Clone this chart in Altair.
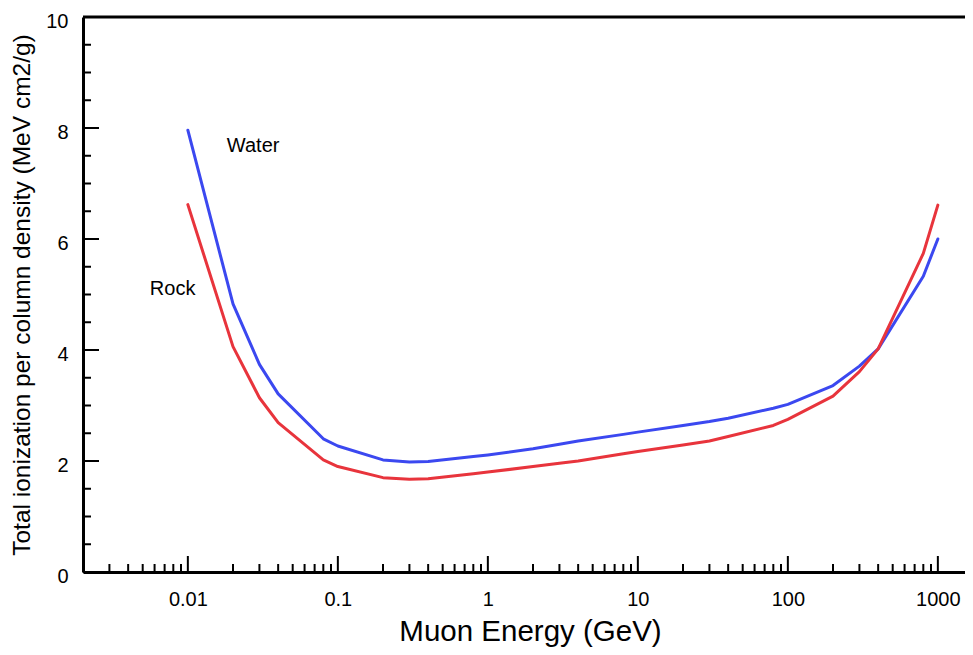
import altair as alt
import pandas as pd

# ---- data ----
energy = [0.01, 0.02, 0.03, 0.04, 0.08, 0.1, 0.2, 0.3, 0.4, 0.8, 1, 2, 3, 4, 8,
          10, 20, 30, 40, 80, 100, 200, 300, 400, 800, 1000]
water = [7.96, 4.83, 3.74, 3.21, 2.40, 2.27, 2.02, 1.98, 1.99, 2.08, 2.11, 2.22,
         2.30, 2.36, 2.48, 2.52, 2.64, 2.71, 2.77, 2.95, 3.02, 3.36, 3.71, 4.02,
         5.33, 6.00]
rock = [6.62, 4.06, 3.14, 2.69, 2.02, 1.90, 1.70, 1.67, 1.68, 1.77, 1.80, 1.90,
        1.96, 2.00, 2.13, 2.17, 2.29, 2.36, 2.44, 2.64, 2.75, 3.17, 3.61, 4.02,
        5.74, 6.61]

label_text = ["Water", "Rock"]
label_x = [0.0182, 0.00558]
label_y = [7.57, 4.99]

x_major = [0.01, 0.1, 1, 10, 100, 1000]
x_minor = [k * 10.0 ** e for e in range(-3, 3) for k in range(2, 10)
           if 0.0025 < k * 10.0 ** e < 1500]
y_major = [0, 2, 4, 6, 8, 10]
y_minor = [0.5, 1, 1.5, 2.5, 3, 3.5, 4.5, 5, 5.5, 6.5, 7, 7.5, 8.5, 9, 9.5]

W, H = 882, 555
FONT = "Liberation Sans"

df = pd.DataFrame({
    "E": energy * 2,
    "v": water + rock,
    "mat": ["Water"] * len(energy) + ["Rock"] * len(energy),
})
lab = pd.DataFrame({"E": label_x, "v": label_y, "t": label_text})

xscale = alt.Scale(type="log", domain=[0.002, 1517.0], nice=False)
yscale = alt.Scale(domain=[0, 10], nice=False, zero=False)

x_axis = alt.Axis(
    values=x_major,
    labelExpr="datum.value >= 1 ? format(datum.value, 'd') : format(datum.value, '.2~f')",
    ticks=False, tickSize=0, grid=False, labelPadding=17,
    labelFontSize=20, labelFont=FONT, labelColor="black",
    domainColor="black", domainWidth=3,
    title="Muon Energy (GeV)", titleFont=FONT, titleFontSize=29.5,
    titleFontWeight="normal", titleColor="black",
    titleX=447, titleY=68, titleAlign="center", titleBaseline="alphabetic",
    labelFlush=False, labelOverlap=False,
)
y_axis = alt.Axis(
    values=y_major, ticks=False, tickSize=0, grid=False, labelPadding=15,
    labelFontSize=20, labelFont=FONT, labelColor="black",
    labelBaseline="alphabetic", labelOffset=10,
    domainColor="black", domainWidth=3,
    title="Total ionization per column density (MeV cm2/g)", titleFont=FONT,
    titleFontSize=24.5, titleFontWeight="normal", titleColor="black",
    titleX=-54, titleY=277.5, titleAlign="center", titleBaseline="alphabetic",
    titleAngle=270, labelFlush=False,
)


def X(field):
    return alt.X(field, scale=xscale, axis=x_axis)


def Y(field):
    return alt.Y(field, scale=yscale, axis=y_axis)


lines = alt.Chart(df).mark_line(strokeWidth=3, strokeCap="round", strokeJoin="round").encode(
    x=X("E:Q"),
    y=Y("v:Q"),
    color=alt.Color("mat:N", scale=alt.Scale(domain=["Water", "Rock"],
                                             range=["#3B48F0", "#E8343C"]), legend=None),
    detail="mat:N",
)

texts = alt.Chart(lab).mark_text(align="left", baseline="alphabetic", fontSize=20,
                                 font=FONT, color="black").encode(
    x=X("E:Q"), y=Y("v:Q"), text="t:N",
)

xmaj = alt.Chart(pd.DataFrame({"E": x_major})).mark_rule(color="black", strokeWidth=2).encode(
    x=X("E:Q"), y=alt.value(H), y2=alt.value(H - 16))
xmin = alt.Chart(pd.DataFrame({"E": x_minor})).mark_rule(color="black", strokeWidth=2).encode(
    x=X("E:Q"), y=alt.value(H), y2=alt.value(H - 8))
ymaj = alt.Chart(pd.DataFrame({"v": y_major})).mark_rule(color="black", strokeWidth=2).encode(
    y=Y("v:Q"), x=alt.value(0), x2=alt.value(16))
ymin = alt.Chart(pd.DataFrame({"v": y_minor})).mark_rule(color="black", strokeWidth=2).encode(
    y=Y("v:Q"), x=alt.value(0), x2=alt.value(8))
top = alt.Chart(pd.DataFrame({"d": [0]})).mark_rule(color="black", strokeWidth=3).encode(
    x=alt.value(0), x2=alt.value(W), y=alt.value(0))

chart = alt.layer(lines, texts, xmaj, xmin, ymaj, ymin, top).properties(
    width=W, height=H,
    autosize=alt.AutoSizeParams(type="none"),
    padding={"left": 75, "top": 9, "right": 0, "bottom": 75},
    background="white",
).configure_view(stroke=None)

chart.save("out.html", embed_options={"renderer": "svg", "actions": False})
